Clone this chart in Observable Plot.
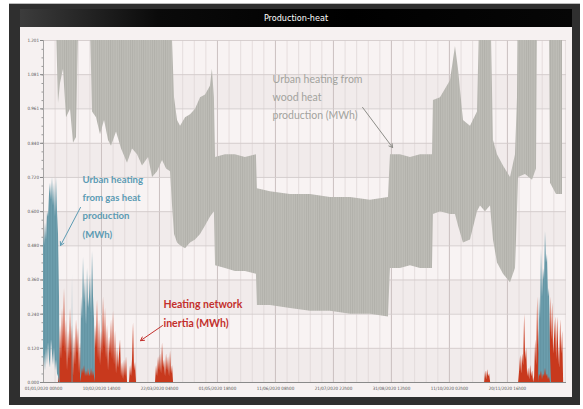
<!DOCTYPE html>
<html><head><meta charset="utf-8">
<script src="https://cdn.jsdelivr.net/npm/d3@7"></script>
<script src="https://cdn.jsdelivr.net/npm/@observablehq/plot@0.6"></script>
<style>
html,body{margin:0;padding:0;background:#fff;width:583px;height:409px;overflow:hidden;}
#frame{position:absolute;left:9px;top:3px;width:571px;height:401px;background:#2f2f2f;border-top:1px solid #bdbdbd;}
#title{position:absolute;left:20px;top:9px;width:552px;height:18px;background:linear-gradient(to right,#3c3c3c,#0a0a0a 25%,#000 60%,#060606);color:#fff;font:9px "Liberation Sans Narrow","DejaVu Sans Condensed",sans-serif;text-align:center;line-height:18px;}
#panel{position:absolute;left:20px;top:27px;width:552px;height:370px;background:#f6f1f1;}
</style></head><body>
<div id="frame"></div>
<div id="title">Production-heat</div>
<div id="panel"></div>
<script>
// ---- tick labels ----
const xTickLabels = ["01/01/2020 00h00","10/02/2020 14h00","22/03/2020 04h00","01/05/2020 18h00","11/06/2020 08h00","21/07/2020 22h00","31/08/2020 12h00","11/10/2020 02h00","20/11/2020 16h00"];
const xTickDays = [0, 40.583, 81.167, 121.75, 162.333, 202.917, 243.5, 284.083, 324.667];
const yTickLabels = ["0.000","0.120","0.240","0.360","0.480","0.600","0.720","0.840","0.961","1.081","1.201"];

// ---- wood (gray) : daily oscillation envelope ----
const grayDay = [0, 9.1, 10.5, 11.9, 14.0, 16.1, 18.9, 21.0, 23.1, 24.5, 32.9, 34.3, 37.1, 39.9, 42.7, 45.5, 47.6, 51.1, 54.6, 58.8, 62.3, 65.8, 69.3, 73.5, 76.3, 79.8, 83.3, 86.1, 88.9, 90.3, 91.7, 93.8, 95.9, 99.4, 102.9, 106.4, 109.9, 113.4, 116.8, 118.2, 119.6, 120.4, 127.3, 134.3, 141.3, 149.0, 149.7, 158.8, 172.8, 186.8, 200.8, 214.8, 228.8, 241.4, 242.8, 249.8, 256.8, 263.8, 272.2, 272.9, 277.8, 284.8, 288.3, 290.4, 293.9, 298.8, 303.7, 305.8, 309.3, 312.8, 314.9, 317.7, 321.9, 326.8, 330.3, 331.7, 332.4, 337.3, 342.2, 345.0, 345.7, 354.1, 354.8, 359.0, 363.2];
const grayLo = [1.25, 1.25, 0.98, 1.05, 1.10, 0.93, 0.96, 0.84, 0.86, 1.25, 1.25, 0.95, 0.93, 0.87, 0.92, 0.85, 0.83, 0.88, 0.82, 0.77, 0.82, 0.80, 0.76, 0.79, 0.72, 0.74, 0.78, 0.75, 0.74, 0.62, 0.52, 0.49, 0.48, 0.47, 0.49, 0.50, 0.52, 0.55, 0.58, 0.59, 0.60, 0.41, 0.40, 0.39, 0.39, 0.38, 0.27, 0.27, 0.26, 0.25, 0.25, 0.24, 0.24, 0.23, 0.40, 0.40, 0.41, 0.40, 0.40, 0.59, 0.60, 0.59, 0.59, 0.55, 0.49, 0.50, 0.60, 0.62, 0.60, 0.62, 0.50, 0.42, 0.38, 0.35, 0.40, 0.60, 0.72, 0.73, 0.71, 0.75, 1.25, 1.25, 0.70, 0.66, 0.66];
const grayHi = [1.40, 1.40, 1.40, 1.40, 1.40, 1.40, 1.40, 1.40, 1.40, 1.40, 1.40, 1.40, 1.40, 1.40, 1.40, 1.40, 1.40, 1.40, 1.40, 1.40, 1.40, 1.40, 1.40, 1.40, 1.40, 1.40, 1.40, 1.40, 1.40, 1.20, 1.00, 0.92, 0.90, 0.93, 0.94, 0.96, 1.00, 1.01, 1.04, 1.10, 1.00, 0.79, 0.80, 0.80, 0.79, 0.80, 0.68, 0.67, 0.66, 0.66, 0.65, 0.65, 0.64, 0.65, 0.80, 0.80, 0.79, 0.80, 0.80, 0.99, 1.00, 1.06, 1.18, 1.10, 0.92, 0.90, 0.95, 1.40, 1.40, 1.40, 0.85, 0.80, 0.76, 0.72, 0.80, 1.00, 1.40, 1.40, 1.40, 1.40, 1.40, 1.40, 1.40, 1.40, 1.40];

// ---- gas (blue) ----
const blueDay = [0, 0.7, 1.4, 2.1, 2.8, 3.5, 4.2, 4.9, 5.6, 6.3, 7.0, 7.7, 8.4, 9.1, 9.8, 10.5, 11.2, 11.6, 20.0, 20.3, 20.6, 25.9, 26.6, 27.3, 28.0, 28.7, 29.4, 30.1, 30.8, 31.5, 32.2, 32.9, 33.6, 34.3, 35.0, 35.7, 36.4, 346.4, 347.1, 347.8, 348.5, 349.2, 349.9, 350.6, 351.3, 352.0, 352.7, 353.4, 354.1, 354.8, 355.5];
const blueLo = [0.06, 0.10, 0.04, 0.12, 0.06, 0.14, 0.08, 0.05, 0.15, 0.10, 0.06, 0.12, 0.04, 0.08, 0.03, 0.02, 0, 0, 0, 0, 0, 0, 0.02, 0.05, 0.03, 0.06, 0.02, 0.04, 0.02, 0.05, 0.03, 0.02, 0.05, 0.02, 0.04, 0.02, 0, 0, 0.03, 0.02, 0.04, 0.01, 0.03, 0.02, 0.05, 0.02, 0.03, 0.01, 0.02, 0, 0];
const blueHi = [0.52, 0.48, 0.56, 0.50, 0.60, 0.58, 0.66, 0.70, 0.64, 0.72, 0.62, 0.70, 0.58, 0.72, 0.60, 0.52, 0.30, 0, 0, 0.38, 0, 0, 0.30, 0.22, 0.44, 0.28, 0.36, 0.20, 0.40, 0.26, 0.30, 0.38, 0.24, 0.46, 0.30, 0.22, 0, 0, 0.30, 0.22, 0.47, 0.30, 0.40, 0.36, 0.53, 0.42, 0.45, 0.30, 0.33, 0.10, 0];

// ---- network inertia (red) ----
const redDay = [0, 10.5, 11.2, 11.9, 12.6, 13.3, 14.0, 14.7, 15.4, 16.1, 16.8, 17.5, 18.2, 18.9, 19.6, 20.3, 21.0, 21.7, 22.4, 23.1, 23.8, 24.5, 25.2, 25.9, 26.6, 27.3, 28.0, 28.7, 29.4, 30.1, 30.8, 31.5, 32.2, 32.9, 33.6, 34.3, 35.0, 35.7, 36.4, 37.1, 37.8, 38.5, 39.2, 39.9, 40.6, 41.3, 42.0, 42.7, 43.4, 44.1, 44.8, 45.5, 46.2, 46.9, 47.6, 48.3, 49.0, 49.7, 50.4, 51.1, 51.8, 52.5, 53.2, 53.9, 54.6, 55.3, 56.0, 56.7, 57.4, 58.1, 58.8, 60.2, 60.9, 61.6, 62.3, 63.0, 63.7, 64.4, 65.1, 78.4, 79.1, 79.8, 80.5, 81.2, 81.9, 82.6, 83.3, 84.0, 84.7, 85.4, 86.1, 86.8, 87.5, 88.2, 88.9, 89.6, 90.3, 91.0, 308.7, 309.4, 310.1, 310.8, 311.5, 312.2, 312.9, 332.5, 333.2, 333.9, 334.6, 335.3, 336.0, 336.7, 337.4, 338.1, 338.8, 339.5, 340.2, 340.9, 341.6, 342.3, 343.0, 343.7, 344.4, 345.1, 345.8, 346.5, 347.2, 347.9, 348.6, 350.0, 351.4, 352.8, 354.2, 354.9, 355.6, 356.3, 357.0, 357.7, 358.4, 359.1, 359.8, 360.5, 361.2, 361.9, 362.6, 363.3, 364.0];
const redVal = [0, 0, 0.05, 0.20, 0.08, 0.26, 0.12, 0.33, 0.10, 0.22, 0.04, 0.18, 0.08, 0.26, 0.10, 0.20, 0.02, 0.16, 0.06, 0.22, 0.10, 0.19, 0.03, 0.14, 0.05, 0.18, 0.24, 0.08, 0.16, 0.04, 0.12, 0.02, 0.10, 0.03, 0.14, 0.05, 0.12, 0.02, 0.20, 0.12, 0.29, 0.08, 0.22, 0.06, 0.18, 0.10, 0.30, 0.12, 0.26, 0.08, 0.20, 0.04, 0.16, 0.10, 0.22, 0.08, 0.25, 0.06, 0.18, 0.03, 0.12, 0.05, 0.10, 0.15, 0.02, 0.07, 0.01, 0.08, 0.02, 0.09, 0, 0, 0.06, 0.02, 0.08, 0.21, 0.04, 0.07, 0, 0, 0.06, 0.02, 0.09, 0.04, 0.10, 0.03, 0.14, 0.05, 0.08, 0.02, 0.10, 0.04, 0.09, 0.02, 0.11, 0.03, 0.06, 0, 0, 0.04, 0.01, 0.045, 0.02, 0.03, 0, 0, 0.04, 0.095, 0.03, 0.10, 0.06, 0.24, 0.08, 0.12, 0.02, 0.05, 0.01, 0.06, 0.02, 0.04, 0, 0.02, 0.15, 0.06, 0.30, 0.10, 0.20, 0.05, 0.18, 0.10, 0.16, 0.08, 0.12, 0.30, 0.15, 0.28, 0.10, 0.16, 0.23, 0.08, 0.23, 0.12, 0.05, 0.22, 0.10, 0.18, 0];

// ---- annotations ----
const notes = [
  {text: "Urban heating from\nwood heat\nproduction (MWh)", x: 160.3, y: 1.008, color: "#a3a39e", size: 10.5, weight: "normal", lh: 1.72},
  {text: "Urban heating\nfrom gas heat\nproduction\n(MWh)", x: 27.3, y: 0.625, color: "#5c9bb3", size: 9.6, weight: "bold", lh: 1.9},
  {text: "Heating network\ninertia (MWh)", x: 84.0, y: 0.251, color: "#c3302c", size: 10.5, weight: "bold", lh: 1.8}
];
const arrows = [
  {x1: 223.3, y1: 0.966, x2: 244.3, y2: 0.825, color: "#8d8d88"},
  {x1: 25.9, y1: 0.615, x2: 11.9, y2: 0.481, color: "#5c9bb3"},
  {x1: 83.3, y1: 0.200, x2: 67.9, y2: 0.147, color: "#c3302c"}
];

const gray = grayDay.map((d, i) => ({day: d, lo: grayLo[i], hi: grayHi[i]}));
const blue = blueDay.map((d, i) => ({day: d, lo: blueLo[i], hi: blueHi[i]}));
const red = redDay.map((d, i) => ({day: d, v: redVal[i]}));
const yTicks = yTickLabels.map(Number);
const bands = yTicks.slice(0, -1).map((v, i) => ({y1: v, y2: yTicks[i + 1], dark: i % 2 === 0}));
const minorX = d3.range(0, 366, 974 / 24 / 5);
const minorY = d3.range(0, 1.2, 0.12 / 4);

// streak texture for the dense daily oscillation
const defs = () => {
  const s = d3.create("svg:defs");
  const p = s.append("pattern").attr("id", "streak").attr("width", 2.2).attr("height", 6).attr("patternUnits", "userSpaceOnUse");
  p.append("rect").attr("width", 2.2).attr("height", 6).attr("fill", "#bebdb7");
  p.append("rect").attr("width", 0.9).attr("height", 6).attr("fill", "#b1b0aa");
  const q = s.append("pattern").attr("id", "bstreak").attr("width", 1.6).attr("height", 6).attr("patternUnits", "userSpaceOnUse");
  q.append("rect").attr("width", 1.6).attr("height", 6).attr("fill", "#6d9fae");
  q.append("rect").attr("width", 0.6).attr("height", 6).attr("fill", "#5f90a0");
  return s.node();
};

const chart = Plot.plot({
  width: 552, height: 370,
  marginLeft: 23, marginRight: 6, marginTop: 13, marginBottom: 15,
  style: {background: "transparent", overflow: "visible"},
  x: {domain: [0, 366]},
  y: {domain: [0, 1.201]},
  marks: [
    defs,
    Plot.rect(bands.filter(d => d.dark), {x1: () => 0, x2: () => 366, y1: "y1", y2: "y2", fill: "#f1ebeb"}),
    Plot.rect(bands.filter(d => !d.dark), {x1: () => 0, x2: () => 366, y1: "y1", y2: "y2", fill: "#f8f3f3"}),
    Plot.ruleX(minorX, {stroke: "#ddd4d4", strokeWidth: 0.7}),
    Plot.ruleX(xTickDays, {stroke: "#c9c0c0", strokeWidth: 0.9}),
    Plot.ruleY(yTicks, {stroke: "#d3cbcb", strokeWidth: 0.9}),
    Plot.areaY(gray, {x: "day", y1: "lo", y2: "hi", fill: "url(#streak)", clip: true}),
    Plot.ruleY([0], {stroke: "#8a8a8a", strokeWidth: 1.2}),
    Plot.ruleX([0], {stroke: "#9a9a9a", strokeWidth: 0.8}),
    Plot.areaY(red, {x: "day", y: "v", fill: "#c8391d", clip: true}),
    Plot.areaY(blue, {x: "day", y1: "lo", y2: "hi", fill: "url(#bstreak)", clip: true}),
    Plot.axisY({ticks: minorY, tickSize: 1.5, tickFormat: () => "", stroke: "#999"}),
    Plot.axisY({ticks: yTicks, tickSize: 3, tickPadding: 1.5, tickFormat: (d) => yTickLabels[yTicks.indexOf(d)], fontSize: 4.5, color: "#555", stroke: "#888", fontFamily: "DejaVu Sans Condensed, sans-serif"}),
    Plot.axisX({ticks: xTickDays, tickSize: 0, tickPadding: 4, tickFormat: (d) => xTickLabels[xTickDays.indexOf(d)], fontSize: 4.5, color: "#555", fontFamily: "DejaVu Sans Condensed, sans-serif"}),
    ...notes.map(n => Plot.text([n], {x: "x", y: "y", text: "text", textAnchor: "start", lineAnchor: "middle", lineHeight: n.lh, fill: n.color, fontSize: n.size, fontWeight: n.weight, fontFamily: "Lato, sans-serif"})),
    ...arrows.map(a => Plot.arrow([a], {x1: "x1", y1: "y1", x2: "x2", y2: "y2", stroke: a.color, strokeWidth: 1, headLength: 6}))
  ]
});
document.getElementById("panel").append(chart);
</script>
</body></html>
